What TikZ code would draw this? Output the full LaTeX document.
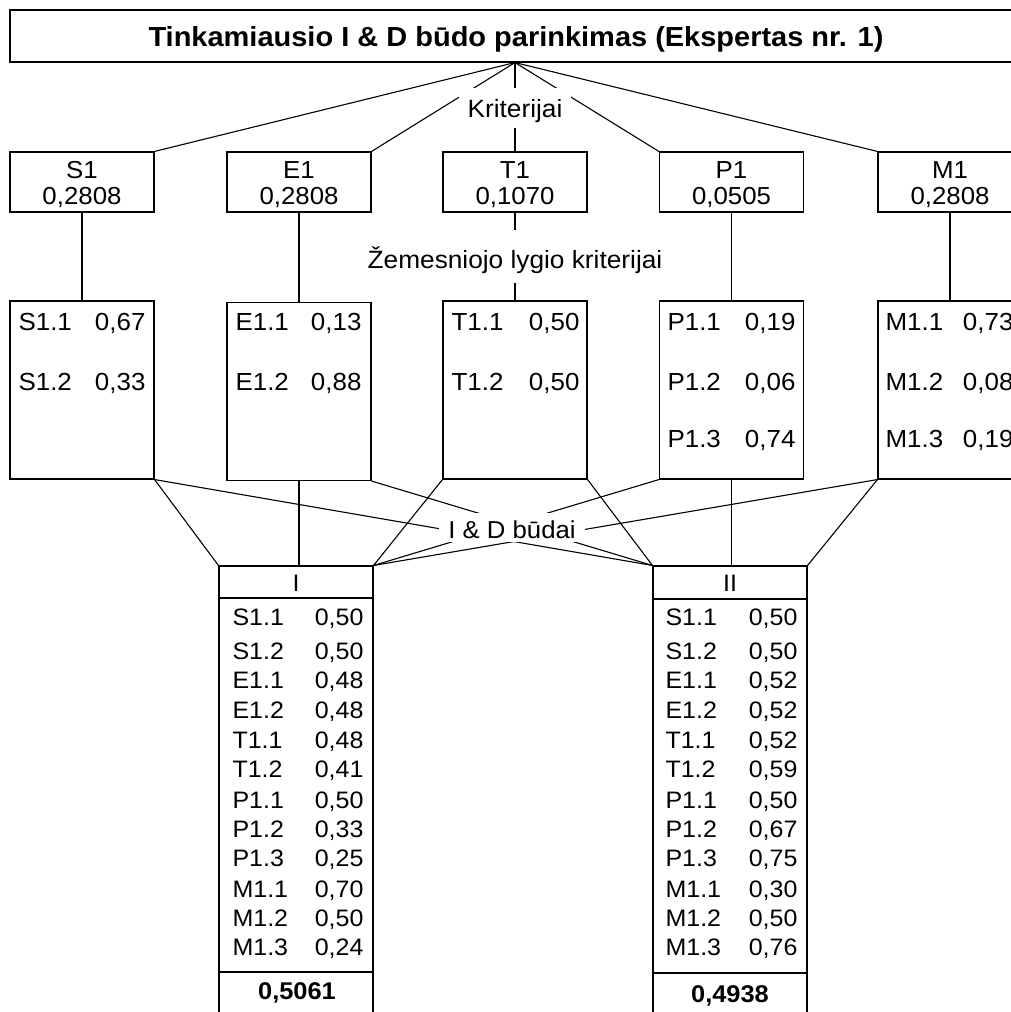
\documentclass[tikz,border=0pt]{standalone}
\usepackage{fontspec}
\setmainfont{Liberation Sans}[FakeStretch=1.05]
\newcommand\myfs[1]{\fontsize{#1}{#1}\selectfont}
\begin{document}
\begin{tikzpicture}[x=1pt,y=-1pt,line width=1.1pt,
  box/.style={draw,rectangle,inner sep=0pt,minimum width=144pt},
  cbox/.style={box,minimum height=60pt},
  ctxt/.style={inner sep=0pt,anchor=base,font=\myfs{24.6}},
  lbox/.style={box,minimum height=178pt},
  rtxt/.style={inner sep=0pt,font=\myfs{24.7}},
  btxt/.style={inner sep=0pt,font=\myfs{23.8}},
  bbox/.style={draw,rectangle,inner sep=0pt,minimum width=154pt},
  wlab/.style={fill=white,inner xsep=9pt,font=\myfs{25}}]
\useasboundingbox (0,0) rectangle (1011,1012);
\clip (0,0) rectangle (1011,1012);
% title
\node[box,minimum width=1010pt,minimum height=52pt] (top) at (515,36) {};
\node[inner sep=0pt,anchor=base,font=\bfseries\myfs{27.6}] (title) at (516,46)
  {Tinkamiausio I \& D būdo parinkimas (Ekspertas nr. 1)};
% criteria
\foreach \n/\x/\v in {S1/82/{0,2808},E1/299/{0,2808},T1/515/{0,1070},P1/731.5/{0,0505},M1/950/{0,2808}}{
  \node[cbox] (\n) at (\x,182) {};
  \node[ctxt] (\n t) at (\x,178) {\n};
  \node[ctxt] (\n v) at (\x,204) {\v};
}
% sub-criteria boxes
\node[lbox] (S1x) at (82,390) {};
\node[lbox] (E1x) at (299,391.5) {};
\node[lbox] (T1x) at (515,390) {};
\node[lbox] (P1x) at (731.5,390) {};
\node[lbox] (M1x) at (950,390) {};
\foreach \nm/\lx/\rx/\la/\va/\lb/\vb/\lc/\vc in {
  S/18/146/S1.1/{0,67}/S1.2/{0,33}//,
  E/235/362/E1.1/{0,13}/E1.2/{0,88}//,
  T/451/580/T1.1/{0,50}/T1.2/{0,50}//,
  P/667/796/P1.1/{0,19}/P1.2/{0,06}/P1.3/{0,74},
  M/885/1014/M1.1/{0,73}/M1.2/{0,08}/M1.3/{0,19}}{
  \node[rtxt,anchor=base west] (\nm a) at (\lx,330) {\la};
  \node[rtxt,anchor=base east] (\nm av) at (\rx,330) {\va};
  \node[rtxt,anchor=base west] (\nm b) at (\lx,390) {\lb};
  \node[rtxt,anchor=base east] (\nm bv) at (\rx,390) {\vb};
  \node[rtxt,anchor=base west] (\nm c) at (\lx,447) {\lc};
  \node[rtxt,anchor=base east] (\nm cv) at (\rx,447) {\vc};
}
% alternatives
\node[bbox,minimum height=32pt] (bI) at (296,582) {};
\node[bbox,minimum height=374pt] (bIb) at (296,785) {};
\node[bbox,minimum height=68pt] (bIr) at (296,1006) {};
\node[bbox,minimum height=33pt] (bII) at (730,582.5) {};
\node[bbox,minimum height=374pt] (bIIb) at (730,786) {};
\node[bbox,minimum height=68pt] (bIIr) at (730,1007) {};
\node[btxt,anchor=base] (tI) at (296,591) {I};
\node[btxt,anchor=base] (tII) at (730,591.5) {II};
\node[btxt,anchor=base,font=\bfseries\myfs{24.2}] (rI) at (297,999) {0,5061};
\node[btxt,anchor=base,font=\bfseries\myfs{24.2}] (rII) at (730,1002) {0,4938};
\foreach \lab/\yy/\va/\vb [count=\i] in {S1.1/625/{0,50}/{0,50}, S1.2/659/{0,50}/{0,50},
  E1.1/688/{0,48}/{0,52}, E1.2/718/{0,48}/{0,52}, T1.1/748/{0,48}/{0,52},
  T1.2/777/{0,41}/{0,59}, P1.1/808/{0,50}/{0,50}, P1.2/837/{0,33}/{0,67},
  P1.3/866/{0,25}/{0,75}, M1.1/897/{0,70}/{0,30}, M1.2/926/{0,50}/{0,50},
  M1.3/955/{0,24}/{0,76}}{
  \node[btxt,anchor=base west] (Ia\i) at (232,\yy) {\lab};
  \node[btxt,anchor=base east] (Iv\i) at (364,\yy) {\va};
  \node[btxt,anchor=base west] (IIa\i) at (665,\yy) {\lab};
  \node[btxt,anchor=base east] (IIv\i) at (798,\yy) {\vb};
}
% connectors
\draw (top.south) -- (S1.north east);
\draw (top.south) -- (E1.north east);
\draw (top.south) -- (T1.north);
\draw (top.south) -- (P1.north west);
\draw (top.south) -- (M1.north west);
\foreach \n in {S1,E1,T1,P1,M1} \draw (\n.south) -- (\n x.north);
\draw (S1x.south east) -- (bI.north west);
\draw (S1x.south east) -- (bII.north west);
\draw (E1x.south) -- (E1x.south |- bI.north);
\draw (E1x.south east) -- (bII.north west);
\draw (T1x.south west) -- (bI.north east);
\draw (T1x.south east) -- (bII.north west);
\draw (P1x.south west) -- (bI.north east);
\draw (P1x.south) -- (P1x.south |- bII.north);
\draw (M1x.south west) -- (bI.north east);
\draw (M1x.south west) -- (bII.north east);
% labels
\node[wlab,text height=22pt,text depth=4pt,inner ysep=7pt] (lk) at (515,108) {Kriterijai};
\node[wlab,text height=25pt,text depth=2pt,inner ysep=13pt,inner xsep=3pt] (lz) at (515,256.5) {Žemesniojo lygio kriterijai};
\node[wlab,font=\myfs{24.5},text height=21pt,text depth=0pt,inner ysep=4pt,inner xsep=9pt] (lb) at (512,527.5) {I \& D būdai};
\end{tikzpicture}
\end{document}
